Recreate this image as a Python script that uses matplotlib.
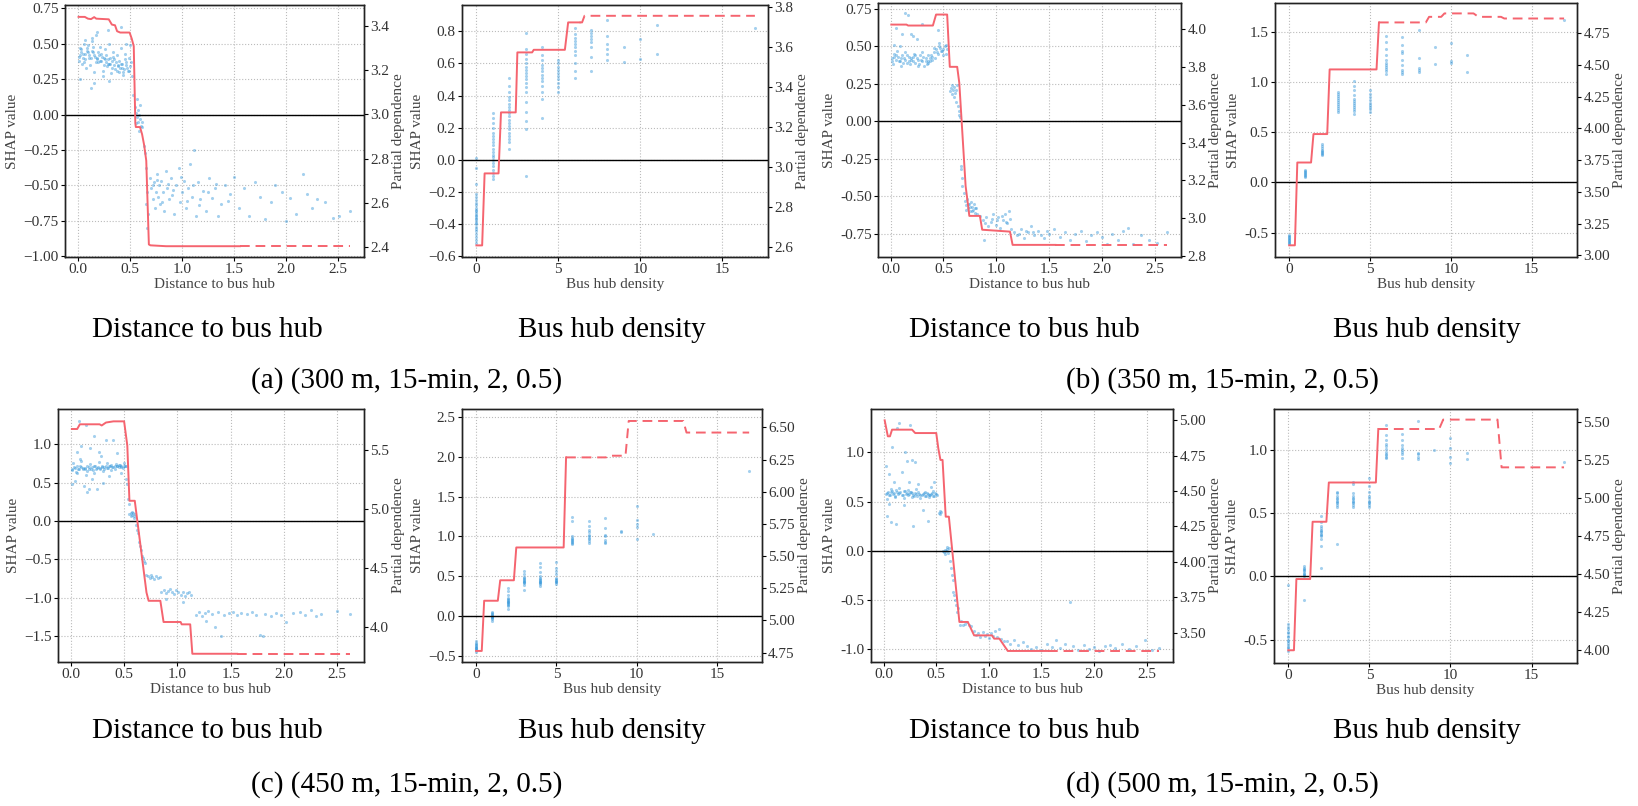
import matplotlib
matplotlib.use("Agg")
import matplotlib.pyplot as plt
from matplotlib.ticker import FormatStrFormatter

plt.rcParams['font.family'] = ['Liberation Serif', 'DejaVu Serif']
plt.rcParams['axes.unicode_minus'] = True

SCATTER = '#3598db'
PD_COLOR = '#f5646f'

# ---------------- (a) 300 m ----------------
a_dist_x = [0.01, 0.03, 0.05, 0.07, 0.09, 0.11, 0.13, 0.15, 0.17, 0.19, 0.21, 0.23, 0.25, 0.27, 0.29, 0.31, 0.33,
            0.35, 0.37, 0.39, 0.41, 0.43, 0.45, 0.47, 0.49, 0.51,
            0.02, 0.06, 0.10, 0.14, 0.18, 0.22, 0.26, 0.30, 0.34, 0.38, 0.42, 0.46, 0.50,
            0.04, 0.08, 0.12, 0.16, 0.20, 0.24, 0.28, 0.32, 0.36, 0.40, 0.44, 0.48, 0.52,
            0.02, 0.13, 0.16, 0.24, 0.30, 0.19, 0.14, 0.42, 0.29, 0.07, 0.47,
            0.55, 0.56, 0.57, 0.58, 0.58, 0.59, 0.60, 0.60, 0.61, 0.62, 0.62, 0.57, 0.59, 0.56, 0.53,
            0.64, 0.65, 0.66, 0.67, 0.66, 0.67, 0.68,
            0.70, 0.71, 0.72, 0.73, 0.74, 0.75, 0.76, 0.77, 0.78, 0.79, 0.80, 0.82, 0.83, 0.85, 0.86, 0.88,
            0.90, 0.91, 0.93, 0.95, 0.97, 0.98, 1.00, 1.02, 1.04, 1.06, 1.08, 1.10, 1.12, 1.14, 1.16, 1.18,
            1.20, 1.23, 1.26, 1.29, 1.32, 1.35, 1.38, 1.42, 1.46, 1.50, 1.55, 1.60, 1.65, 1.70, 1.75, 1.80,
            1.86, 1.90, 1.96, 2.00, 2.04, 2.10, 2.16, 2.20, 2.25, 2.30, 2.38, 2.45, 2.51, 2.62,
            0.015, 0.035, 0.055, 0.075, 0.095, 0.115, 0.135, 0.155, 0.175, 0.195, 0.215, 0.235, 0.255, 0.275,
            0.295, 0.315, 0.335, 0.355, 0.375, 0.395, 0.415, 0.435, 0.455, 0.475, 0.495,
            0.025, 0.065, 0.105, 0.145, 0.185, 0.225, 0.265, 0.305, 0.345, 0.385, 0.425, 0.465, 0.505,
            0.72, 0.76, 0.81, 0.87, 0.92, 0.99, 1.05, 1.11, 1.17, 1.25, 1.33, 1.44]
a_dist_y = [0.41, 0.44, 0.40, 0.43, 0.45, 0.42, 0.40, 0.44, 0.41, 0.39, 0.42, 0.38, 0.40, 0.37, 0.39, 0.36, 0.38,
            0.35, 0.37, 0.34, 0.33, 0.36, 0.32, 0.35, 0.31, 0.37,
            0.47, 0.50, 0.49, 0.52, 0.56, 0.48, 0.46, 0.50, 0.44, 0.42, 0.47, 0.43, 0.49,
            0.36, 0.33, 0.35, 0.30, 0.37, 0.31, 0.34, 0.29, 0.32, 0.30, 0.28, 0.31, 0.27,
            0.25, 0.19, 0.22, 0.27, 0.24, 0.58, 0.54, 0.62, 0.60, 0.53, 0.50,
            0.05, 0.01, -0.02, 0.03, -0.05, 0.00, -0.03, 0.07, -0.08, -0.05, -0.09, 0.11, -0.12, -0.06, 0.14,
            -0.22, -0.27, -0.38, -0.55, -0.63, -0.80, -0.70,
            -0.45, -0.52, -0.60, -0.48, -0.66, -0.55, -0.42, -0.58, -0.50, -0.63, -0.47, -0.55, -0.68, -0.40, -0.52, -0.60,
            -0.45, -0.57, -0.70, -0.50, -0.38, -0.62, -0.55, -0.47, -0.66, -0.52, -0.35, -0.58, -0.25, -0.72, -0.48, -0.60,
            -0.54, -0.68, -0.45, -0.59, -0.52, -0.72, -0.63, -0.50, -0.56, -0.44, -0.66, -0.52, -0.72, -0.48, -0.58, -0.74,
            -0.62, -0.50, -0.55, -0.75, -0.59, -0.70, -0.42, -0.56, -0.66, -0.60, -0.62, -0.73, -0.72, -0.68,
            0.38, 0.46, 0.43, 0.39, 0.47, 0.40, 0.45, 0.42, 0.37, 0.44, 0.38, 0.41, 0.35, 0.42,
            0.36, 0.40, 0.33, 0.39, 0.31, 0.38, 0.36, 0.30, 0.39, 0.33, 0.40,
            0.42, 0.37, 0.44, 0.48, 0.40, 0.43, 0.39, 0.36, 0.41, 0.35, 0.33, 0.37, 0.34,
            -0.50, -0.46, -0.62, -0.49, -0.53, -0.44, -0.61, -0.50, -0.64, -0.55, -0.49, -0.61]
a_dist_pd_x = [0.01, 0.07, 0.10, 0.13, 0.16, 0.18, 0.30, 0.33, 0.36, 0.38, 0.41, 0.50, 0.52, 0.54, 0.555, 0.56,
               0.60, 0.62, 0.64, 0.66, 0.685, 0.70, 0.85, 1.56, 2.62]
a_dist_pd_y = [3.443, 3.443, 3.435, 3.433, 3.442, 3.435, 3.432, 3.408, 3.405, 3.378, 3.372, 3.372, 3.345, 3.31,
               2.96, 2.943, 2.943, 2.91, 2.86, 2.79, 2.41, 2.406, 2.402, 2.402, 2.402]
a_dist_cut = 1.56

a_dens_cols = [0, 1, 2, 3, 4, 5, 6, 7, 8, 9, 10, 11, 17]
a_dens_vals = [
    [-0.52, -0.50, -0.48, -0.46, -0.44, -0.43, -0.42, -0.40, -0.39, -0.38, -0.37, -0.36, -0.35, -0.34, -0.33,
     -0.32, -0.31, -0.30, -0.28, -0.27, -0.25, -0.23, -0.21, -0.15, -0.05, 0.01],
    [-0.12, -0.10, -0.08, -0.06, -0.04, -0.02, 0.0, 0.02, 0.03, 0.05, 0.07, 0.09, 0.11, 0.13, 0.15, 0.17, 0.20,
     0.23, 0.26, 0.29],
    [0.07, 0.11, 0.13, 0.15, 0.17, 0.19, 0.21, 0.23, 0.25, 0.27, 0.29, 0.31, 0.33, 0.35, 0.37, 0.39, 0.42, 0.46, 0.51],
    [-0.10, 0.19, 0.24, 0.30, 0.36, 0.42, 0.45, 0.48, 0.50, 0.52, 0.54, 0.56, 0.58, 0.60, 0.63, 0.66, 0.69, 0.79],
    [0.26, 0.38, 0.42, 0.46, 0.49, 0.51, 0.53, 0.55, 0.57, 0.59, 0.62, 0.65, 0.70],
    [0.42, 0.45, 0.48, 0.50, 0.52, 0.54, 0.56, 0.58, 0.60, 0.62],
    [0.51, 0.55, 0.60, 0.65, 0.68, 0.70, 0.72, 0.74, 0.76, 0.78, 0.82],
    [0.55, 0.64, 0.70, 0.73, 0.75, 0.77, 0.79, 0.81],
    [0.62, 0.66, 0.69, 0.72, 0.77, 0.87],
    [0.61, 0.70],
    [0.63, 0.75],
    [0.66, 0.84],
    [0.82],
]
a_dens_pd_x = [0, 0.35, 0.5, 1.35, 1.5, 2.4, 2.5, 3.4, 3.5, 5.4, 5.6, 6.3, 6.45, 6.6, 17]
a_dens_pd_y = [2.61, 2.61, 2.97, 2.97, 3.275, 3.275, 3.575, 3.575, 3.588, 3.588, 3.725, 3.725, 3.725, 3.758, 3.758]
a_dens_cut = 6.3

# ---------------- (b) 350 m ----------------
b_dist_x = [0.01, 0.03, 0.05, 0.07, 0.09, 0.11, 0.13, 0.15, 0.17, 0.19, 0.21, 0.23, 0.25, 0.27, 0.29, 0.31, 0.33,
            0.35, 0.37, 0.39,
            0.02, 0.06, 0.10, 0.14, 0.18, 0.22, 0.26, 0.30, 0.34, 0.38,
            0.41, 0.43, 0.45, 0.47, 0.49, 0.51, 0.53, 0.42, 0.46, 0.50, 0.52,
            0.05, 0.11, 0.14, 0.16, 0.19, 0.21, 0.25, 0.30, 0.09, 0.03, 0.45, 0.35,
            0.56, 0.57, 0.58, 0.59, 0.60, 0.61, 0.62, 0.63, 0.60, 0.58, 0.62,
            0.64, 0.645, 0.65, 0.66,
            0.665, 0.67, 0.675, 0.68, 0.69,
            0.70, 0.71, 0.72, 0.73, 0.74, 0.75, 0.76, 0.77, 0.78, 0.79, 0.80, 0.81, 0.82,
            0.85, 0.87, 0.89, 0.90, 0.92, 0.95, 0.97, 1.00, 1.02, 1.04, 1.06, 1.08, 1.10, 1.12, 1.14, 0.88,
            1.17, 1.20, 1.23, 1.26, 1.30, 1.33, 1.36, 1.40, 1.45, 1.50, 1.55, 1.60, 1.65, 1.70, 1.75,
            1.80, 1.85, 1.90, 1.95, 2.00, 2.05, 2.10, 2.15, 2.20, 2.25, 2.30, 2.37, 2.45, 2.52, 2.62,
            0.015, 0.035, 0.055, 0.075, 0.095, 0.115, 0.135, 0.155, 0.175, 0.195, 0.215, 0.235, 0.255, 0.275,
            0.295, 0.315, 0.335, 0.355, 0.375, 0.395,
            0.415, 0.435, 0.455, 0.475, 0.495, 0.525,
            0.715, 0.735, 0.755, 0.775, 0.795, 0.96, 1.01, 1.05, 1.09, 1.13, 1.22, 1.28, 1.35, 1.42, 1.48]
b_dist_y = [0.42, 0.45, 0.41, 0.43, 0.40, 0.44, 0.42, 0.39, 0.43, 0.41, 0.40, 0.44, 0.42, 0.38, 0.41, 0.43, 0.40,
            0.39, 0.42, 0.41,
            0.38, 0.47, 0.37, 0.46, 0.38, 0.45, 0.37, 0.46, 0.38, 0.44,
            0.46, 0.48, 0.45, 0.49, 0.47, 0.50, 0.48, 0.42, 0.52, 0.44, 0.45,
            0.62, 0.58, 0.72, 0.71, 0.58, 0.57, 0.55, 0.65, 0.50, 0.51, 0.61, 0.40,
            0.20, 0.22, 0.18, 0.21, 0.23, 0.19, 0.21, 0.24, 0.16, 0.24, 0.13,
            0.10, 0.07, 0.04, 0.03,
            -0.30, -0.32, -0.38, -0.43, -0.48,
            -0.53, -0.56, -0.52, -0.58, -0.55, -0.60, -0.54, -0.57, -0.59, -0.55, -0.61, -0.58, -0.62,
            -0.63, -0.66, -0.68, -0.64, -0.70, -0.67, -0.62, -0.69, -0.64, -0.71, -0.66, -0.62, -0.68, -0.60, -0.72, -0.79,
            -0.74, -0.76, -0.72, -0.78, -0.74, -0.70, -0.76, -0.73, -0.78, -0.75, -0.72, -0.77, -0.74, -0.79, -0.75,
            -0.73, -0.80, -0.76, -0.74, -0.77, -0.82, -0.75, -0.79, -0.73, -0.71, -0.82, -0.76, -0.79, -0.81, -0.74,
            0.40, 0.43, 0.44, 0.40, 0.42, 0.39, 0.41, 0.44, 0.40, 0.42, 0.43, 0.39, 0.41, 0.44,
            0.40, 0.37, 0.42, 0.44, 0.40, 0.43,
            0.49, 0.46, 0.50, 0.47, 0.48, 0.51,
            -0.59, -0.55, -0.57, -0.60, -0.58, -0.65, -0.66, -0.63, -0.67, -0.65, -0.75, -0.73, -0.74, -0.76, -0.73]
b_dist_pd_x = [0.006, 0.15, 0.165, 0.40, 0.43, 0.535, 0.56, 0.63, 0.65, 0.71, 0.735, 0.745, 0.845, 0.867, 1.13,
               1.155, 1.56, 2.62]
b_dist_pd_y = [4.023, 4.023, 4.018, 4.018, 4.076, 4.076, 3.80, 3.80, 3.715, 3.17, 3.06, 3.013, 3.013, 2.94, 2.93,
               2.86, 2.86, 2.86]
b_dist_cut = 1.56

b_dens_cols = [0, 1, 2, 3, 4, 5, 6, 7, 8, 9, 10, 11, 17]
b_dens_vals = [
    [-0.61, -0.60, -0.59, -0.58, -0.57, -0.56, -0.55, -0.54, -0.53, -0.52],
    [0.05, 0.06, 0.07, 0.08, 0.09, 0.10, 0.11, 0.12],
    [0.27, 0.28, 0.29, 0.30, 0.31, 0.32, 0.34, 0.36, 0.38],
    [0.70, 0.72, 0.74, 0.76, 0.78, 0.80, 0.82, 0.84, 0.86, 0.88, 0.90],
    [0.68, 0.71, 0.73, 0.75, 0.77, 0.79, 0.81, 0.83, 0.87, 0.92, 0.96, 1.01],
    [0.70, 0.73, 0.75, 0.77, 0.79, 0.82, 0.85, 0.88, 0.92],
    [1.08, 1.11, 1.13, 1.15, 1.17, 1.19, 1.22, 1.27, 1.33, 1.40, 1.46],
    [1.08, 1.10, 1.12, 1.17, 1.22, 1.29, 1.31, 1.37, 1.45],
    [1.10, 1.12, 1.14, 1.24, 1.52],
    [1.18, 1.35],
    [1.19, 1.21, 1.39],
    [1.10, 1.27],
    [1.62],
]
b_dens_pd_x = [0, 0.35, 0.5, 1.35, 1.5, 2.35, 2.5, 5.4, 5.55, 8.45, 8.65, 9.4, 9.6, 11.4, 11.7, 13.1, 13.3, 17]
b_dens_pd_y = [3.079, 3.079, 3.731, 3.731, 3.955, 3.955, 4.464, 4.464, 4.834, 4.834, 4.878, 4.878, 4.905, 4.905,
               4.878, 4.878, 4.865, 4.865]
b_dens_cut = 5.55

# ---------------- (c) 450 m ----------------
c_dist_x = [0.01, 0.03, 0.05, 0.07, 0.09, 0.11, 0.13, 0.15, 0.17, 0.19, 0.21, 0.23, 0.25, 0.27, 0.29, 0.31, 0.33,
            0.35, 0.37, 0.39, 0.41, 0.43, 0.45, 0.47, 0.49, 0.51,
            0.02, 0.06, 0.10, 0.14, 0.18, 0.22, 0.26, 0.30, 0.34, 0.38, 0.42, 0.46, 0.50,
            0.01, 0.04, 0.06, 0.08, 0.10, 0.12, 0.14, 0.15, 0.18, 0.20, 0.22, 0.25, 0.28, 0.30, 0.33, 0.36, 0.40,
            0.43, 0.47, 0.09, 0.17, 0.26,
            0.52, 0.53, 0.54, 0.55,
            0.55, 0.56, 0.57, 0.58, 0.59, 0.60, 0.57, 0.59, 0.56,
            0.61, 0.62, 0.63, 0.64, 0.65, 0.66, 0.67, 0.68, 0.69, 0.70, 0.71,
            0.72, 0.74, 0.76, 0.78, 0.80, 0.82, 0.84, 0.75,
            0.85, 0.87, 0.89, 0.91, 0.93, 0.95, 0.97, 0.99, 1.01, 1.03, 1.05, 1.07, 1.09, 1.11, 1.13, 0.89, 1.05,
            1.17, 1.20, 1.23, 1.26, 1.29, 1.32, 1.35, 1.38, 1.41, 1.44, 1.48, 1.52, 1.56, 1.60, 1.65, 1.70, 1.74,
            1.77, 1.80, 1.82, 1.88, 1.92, 1.97, 2.02, 2.08, 2.15, 2.20, 2.25, 2.30, 2.35, 2.50, 2.62, 1.27,
            0.015, 0.035, 0.055, 0.075, 0.095, 0.115, 0.135, 0.155, 0.175, 0.195, 0.215, 0.235, 0.255, 0.275,
            0.295, 0.315, 0.335, 0.355, 0.375, 0.395, 0.415, 0.435, 0.455, 0.475, 0.495, 0.515]
c_dist_y = [0.66, 0.70, 0.64, 0.68, 0.71, 0.67, 0.69, 0.65, 0.70, 0.68, 0.66, 0.71, 0.69, 0.67, 0.70, 0.68, 0.72,
            0.69, 0.71, 0.70, 0.68, 0.72, 0.70, 0.71, 0.69, 0.72,
            0.75, 0.62, 0.78, 0.60, 0.74, 0.63, 0.77, 0.65, 0.75, 0.66, 0.74, 0.73, 0.76,
            0.48, 0.52, 0.90, 1.30, 0.98, 0.45, 1.25, 0.38, 0.95, 0.55, 1.10, 0.42, 0.85, 0.50, 1.05, 0.58, 1.05,
            0.88, 0.62, 0.80, 0.42, 0.90,
            0.55, 0.48, 0.28, 0.22,
            0.09, 0.11, 0.08, 0.10, 0.06, 0.09, 0.12, 0.04, 0.06,
            -0.05, -0.12, -0.15, -0.28, -0.32, -0.38, -0.45, -0.48, -0.52, -0.55, -0.70,
            -0.72, -0.74, -0.73, -0.75, -0.72, -0.74, -0.73, -0.70,
            -0.92, -0.90, -0.94, -0.91, -0.89, -0.92, -0.95, -0.90, -0.93, -0.96, -0.92, -0.97, -0.94, -0.92, -0.96,
            -1.02, -1.06,
            -1.22, -1.18, -1.24, -1.20, -1.17, -1.21, -1.38, -1.19, -1.50, -1.22, -1.20, -1.18, -1.22, -1.20, -1.21,
            -1.19, -1.22, -1.48, -1.50, -1.21, -1.23, -1.20, -1.22, -1.31, -1.20, -1.19, -1.22, -1.16, -1.24, -1.21,
            -1.17, -1.21, -1.30,
            0.68, 0.69, 0.72, 0.67, 0.70, 0.69, 0.68, 0.71, 0.67, 0.70, 0.72, 0.68, 0.70, 0.69,
            0.71, 0.70, 0.69, 0.71, 0.73, 0.70, 0.72, 0.71, 0.73, 0.70, 0.72, 0.71]
c_dist_pd_x = [0.01, 0.06, 0.085, 0.27, 0.29, 0.33, 0.40, 0.50, 0.53, 0.55, 0.60, 0.71, 0.73, 0.84, 0.87, 1.03,
               1.04, 1.12, 1.14, 1.56, 2.62]
c_dist_pd_y = [5.68, 5.68, 5.72, 5.72, 5.71, 5.735, 5.745, 5.745, 5.54, 5.07, 5.07, 4.29, 4.22, 4.22, 4.04, 4.04,
               4.02, 4.02, 3.77, 3.77, 3.77]
c_dist_cut = 1.56

c_dens_cols = [0, 1, 2, 3, 4, 5, 6, 7, 8, 9, 10, 11, 17]
c_dens_vals = [
    [-0.45, -0.43, -0.42, -0.41, -0.40, -0.39, -0.38, -0.37, -0.36, -0.34, -0.32],
    [-0.06, -0.04, -0.03, -0.02, -0.01, 0.0, 0.01, 0.02, 0.03, 0.05],
    [0.08, 0.12, 0.14, 0.15, 0.16, 0.17, 0.18, 0.19, 0.20, 0.21, 0.22, 0.26, 0.31, 0.35],
    [0.33, 0.39, 0.41, 0.42, 0.43, 0.44, 0.45, 0.46, 0.47, 0.49, 0.53, 0.57],
    [0.38, 0.40, 0.41, 0.42, 0.43, 0.44, 0.45, 0.46, 0.47, 0.50, 0.55, 0.61, 0.67],
    [0.40, 0.42, 0.43, 0.44, 0.45, 0.46, 0.48, 0.52, 0.56, 0.60, 0.68],
    [0.90, 0.92, 0.93, 0.94, 0.95, 0.96, 0.98, 1.00, 1.19, 1.24],
    [0.92, 0.94, 0.96, 0.98, 1.00, 1.02, 1.05, 1.08, 1.13, 1.19],
    [0.91, 0.93, 0.95, 1.00, 1.02, 1.10, 1.23],
    [1.05, 1.07],
    [0.97, 1.12, 1.15, 1.20, 1.38],
    [1.03],
    [1.82],
]
c_dens_pd_x = [0, 0.35, 0.5, 1.35, 1.5, 2.35, 2.5, 5.45, 5.6, 8.1, 8.2, 9.3, 9.5, 12.9, 13.1, 17]
c_dens_pd_y = [4.763, 4.763, 5.153, 5.153, 5.312, 5.312, 5.567, 5.567, 6.267, 6.267, 6.28, 6.28, 6.55, 6.55,
               6.46, 6.46]
c_dens_cut = 5.6

# ---------------- (d) 500 m ----------------
d_dist_x = [0.02, 0.04, 0.06, 0.08, 0.10, 0.12, 0.14, 0.16, 0.18, 0.20, 0.22, 0.24, 0.26, 0.28, 0.30, 0.32, 0.34,
            0.36, 0.38, 0.40, 0.42, 0.44, 0.46, 0.48, 0.50,
            0.03, 0.07, 0.11, 0.15, 0.19, 0.23, 0.27, 0.31, 0.35, 0.39, 0.43, 0.47,
            0.02, 0.03, 0.05, 0.07, 0.08, 0.10, 0.12, 0.13, 0.15, 0.17, 0.20, 0.22, 0.24, 0.27, 0.28, 0.30, 0.33,
            0.37, 0.42, 0.45, 0.48, 0.05, 0.25, 0.19,
            0.53, 0.535, 0.54, 0.545,
            0.56, 0.57, 0.58, 0.59, 0.60, 0.61, 0.62, 0.585, 0.605,
            0.63, 0.64, 0.65, 0.66, 0.66, 0.67, 0.68, 0.69, 0.70, 0.71,
            0.73, 0.75, 0.77, 0.79, 0.81, 0.83, 0.74,
            0.86, 0.88, 0.90, 0.92, 0.94, 0.96, 0.98, 1.00, 1.02, 1.04, 1.06, 1.08, 1.10, 1.12, 1.14,
            1.17, 1.20, 1.24, 1.28, 1.32, 1.36, 1.40, 1.45, 1.50, 1.55, 1.60, 1.64, 1.68, 1.72, 1.77,
            1.80, 1.85, 1.90, 1.95, 2.00, 2.05, 2.10, 2.15, 2.20, 2.27, 2.33, 2.40, 2.48, 2.55, 2.62,
            0.03, 0.05, 0.07, 0.09, 0.11, 0.13, 0.15, 0.17, 0.19, 0.21, 0.23, 0.25, 0.27, 0.29, 0.31, 0.33,
            0.35, 0.37, 0.39, 0.41, 0.43, 0.45, 0.47, 0.49, 0.51]
d_dist_y = [0.58, 0.60, 0.57, 0.61, 0.59, 0.62, 0.58, 0.60, 0.57, 0.61, 0.59, 0.58, 0.60, 0.57, 0.59, 0.56, 0.58,
            0.57, 0.59, 0.56, 0.58, 0.57, 0.59, 0.56, 0.58,
            0.53, 0.63, 0.55, 0.64, 0.54, 0.62, 0.55, 0.63, 0.54, 0.60, 0.55, 0.61,
            0.86, 0.35, 0.78, 0.29, 1.05, 0.70, 0.27, 1.25, 1.30, 0.80, 1.00, 0.91, 0.70, 0.92, 0.25, 0.90, 0.68,
            0.41, 0.30, 0.65, 0.70, 0.47, 1.28, 0.46,
            0.38, 0.40, 0.37, 0.39,
            0.00, -0.01, 0.01, 0.00, 0.02, -0.02, 0.03, -0.03, 0.04,
            -0.10, -0.18, -0.25, -0.30, -0.42, -0.45, -0.50, -0.55, -0.62, -0.58,
            -0.75, -0.76, -0.74, -0.72, -0.75, -0.77, -0.71,
            -0.82, -0.86, -0.84, -0.88, -0.83, -0.87, -0.85, -0.89, -0.84, -0.87, -0.82, -0.88, -0.80, -0.90, -0.92,
            -0.92, -0.95, -0.91, -0.96, -0.93, -0.97, -1.00, -0.98, -1.01, -0.95, -0.98, -0.91, -0.99, -0.95, -0.52,
            -0.97, -1.01, -0.96, -1.00, -0.98, -1.02, -0.97, -0.96, -0.99, -0.95, -1.00, -0.97, -0.91, -1.01, -0.99,
            0.59, 0.57, 0.60, 0.58, 0.56, 0.60, 0.59, 0.57, 0.61, 0.58, 0.57, 0.60, 0.59, 0.56, 0.58, 0.60,
            0.57, 0.58, 0.56, 0.59, 0.57, 0.58, 0.56, 0.59, 0.57]
d_dist_pd_x = [0.01, 0.04, 0.06, 0.08, 0.27, 0.30, 0.50, 0.52, 0.54, 0.56, 0.59, 0.62, 0.72, 0.80, 0.86, 1.03,
               1.05, 1.10, 1.18, 1.56, 2.62]
d_dist_pd_y = [5.0, 4.887, 4.887, 4.934, 4.934, 4.91, 4.91, 4.80, 4.72, 4.72, 4.319, 4.319, 3.575, 3.575, 3.48,
               3.48, 3.457, 3.457, 3.37, 3.37, 3.37]
d_dist_cut = 1.56

d_dens_cols = [0, 1, 2, 3, 4, 5, 6, 7, 8, 9, 10, 11, 17]
d_dens_vals = [
    [-0.59, -0.57, -0.56, -0.54, -0.53, -0.51, -0.50, -0.48, -0.47, -0.45, -0.44, -0.42, -0.40, -0.38, -0.07],
    [-0.19, 0.00, 0.01, 0.02, 0.03, 0.04, 0.05, 0.06, 0.07, 0.08],
    [0.07, 0.24, 0.30, 0.32, 0.33, 0.34, 0.35, 0.36, 0.37, 0.38, 0.40, 0.43, 0.48],
    [0.26, 0.55, 0.57, 0.58, 0.59, 0.60, 0.61, 0.62, 0.64, 0.66, 0.67],
    [0.55, 0.57, 0.58, 0.59, 0.60, 0.61, 0.62, 0.64, 0.66, 0.73, 0.75],
    [0.55, 0.57, 0.58, 0.59, 0.60, 0.62, 0.64, 0.67, 0.72, 0.78],
    [0.94, 0.95, 0.96, 0.97, 0.99, 1.01, 1.03, 1.05, 1.08, 1.12, 1.20],
    [0.94, 0.97, 0.99, 1.00, 1.02, 1.04, 1.08, 1.13],
    [0.93, 0.95, 0.97, 0.98, 1.23],
    [1.00],
    [0.90, 0.95, 1.02, 1.10],
    [0.93, 0.98],
    [0.91],
]
d_dens_pd_x = [0, 0.35, 0.5, 1.35, 1.5, 2.35, 2.5, 5.4, 5.55, 9.3, 9.55, 12.9, 13.15, 17]
d_dens_pd_y = [3.996, 3.996, 4.466, 4.466, 4.844, 4.844, 5.103, 5.103, 5.456, 5.456, 5.518, 5.518, 5.203, 5.203]
d_dens_cut = 5.55

dist_ticks = [0.0, 0.5, 1.0, 1.5, 2.0, 2.5]
dens_ticks = [0, 5, 10, 15]


def expand(cols, vals):
    xs, ys = [], []
    for c, v in zip(cols, vals):
        xs += [c] * len(v)
        ys += v
    return xs, ys


def panel(rect, sx, sy, pdx, pdy, cut, xlim, xticks, xlabel, ylim, yticks, ylim2, y2ticks,
          fmt=None, fmt2=None):
    ax = fig.add_axes(rect)
    ax.scatter(sx, sy, s=5, color=SCATTER, alpha=0.45, linewidths=0, zorder=2)
    ax.axhline(0, color='black', lw=1.0, zorder=3)
    ax.set_xlim(*xlim)
    ax.set_ylim(*ylim)
    ax.set_xticks(xticks)
    ax.set_yticks(yticks)
    ax.grid(True, ls=':', color='#bbbbbb', lw=0.8)
    ax.set_axisbelow(True)
    ax.set_xlabel(xlabel, fontsize=11, color='#444444', labelpad=1)
    ax.set_ylabel('SHAP value', fontsize=11, color='#444444', labelpad=3)
    if fmt:
        ax.yaxis.set_major_formatter(FormatStrFormatter(fmt))

    ax2 = ax.twinx()
    solid = [(x, y) for x, y in zip(pdx, pdy) if x <= cut]
    dashed = [(x, y) for x, y in zip(pdx, pdy) if x >= cut]
    ax2.plot([p[0] for p in solid], [p[1] for p in solid], color=PD_COLOR, lw=1.4)
    ax2.plot([p[0] for p in dashed], [p[1] for p in dashed], color=PD_COLOR, lw=1.4, ls=(0, (5, 3)))
    ax2.set_xlim(*xlim)
    ax2.set_ylim(*ylim2)
    ax2.set_yticks(y2ticks)
    ax2.set_ylabel('Partial dependence', fontsize=11, color='#444444', labelpad=2)
    if fmt2:
        ax2.yaxis.set_major_formatter(FormatStrFormatter(fmt2))
    for a in (ax, ax2):
        a.tick_params(labelsize=11, labelcolor='#333333', length=3, width=0.8, pad=1.5)
        for s in a.spines.values():
            s.set_color('#222222')
            s.set_linewidth(1.0)


W, H = 1638, 806
fig = plt.figure(figsize=(W / 100, H / 100), dpi=100)


def rect(x0, x1, y0, y1):
    return [x0 / W, 1 - y1 / H, (x1 - x0) / W, (y1 - y0) / H]


dist_lim = (-0.12, 2.75)
dens_lim = (-0.88, 17.8)

# (a)
panel(rect(65, 364, 5, 257), a_dist_x, a_dist_y, a_dist_pd_x, a_dist_pd_y, a_dist_cut,
      dist_lim, dist_ticks, 'Distance to bus hub',
      (-1.007, 0.774), [-1.0, -0.75, -0.5, -0.25, 0.0, 0.25, 0.5, 0.75],
      (2.353, 3.497), [2.4, 2.6, 2.8, 3.0, 3.2, 3.4])
ax_x, ax_y = expand(a_dens_cols, a_dens_vals)
panel(rect(462, 768, 5, 257), ax_x, ax_y, a_dens_pd_x, a_dens_pd_y, a_dens_cut,
      dens_lim, dens_ticks, 'Bus hub density',
      (-0.604, 0.963), [-0.6, -0.4, -0.2, 0.0, 0.2, 0.4, 0.6, 0.8],
      (2.552, 3.812), [2.6, 2.8, 3.0, 3.2, 3.4, 3.6, 3.8])

# (b)
panel(rect(878, 1181, 3, 257), b_dist_x, b_dist_y, b_dist_pd_x, b_dist_pd_y, b_dist_cut,
      dist_lim, dist_ticks, 'Distance to bus hub',
      (-0.906, 0.79), [-0.75, -0.5, -0.25, 0.0, 0.25, 0.5, 0.75],
      (2.796, 4.137), [2.8, 3.0, 3.2, 3.4, 3.6, 3.8, 4.0], fmt='%.2f', fmt2='%.1f')
bx, by = expand(b_dens_cols, b_dens_vals)
panel(rect(1275, 1577, 3, 257), bx, by, b_dens_pd_x, b_dens_pd_y, b_dens_cut,
      dens_lim, dens_ticks, 'Bus hub density',
      (-0.743, 1.79), [-0.5, 0.0, 0.5, 1.0, 1.5],
      (2.987, 4.987), [3.0, 3.25, 3.5, 3.75, 4.0, 4.25, 4.5, 4.75], fmt='%.1f', fmt2='%.2f')

# (c)
panel(rect(58, 364, 409, 662), c_dist_x, c_dist_y, c_dist_pd_x, c_dist_pd_y, c_dist_cut,
      dist_lim, dist_ticks, 'Distance to bus hub',
      (-1.835, 1.457), [-1.5, -1.0, -0.5, 0.0, 0.5, 1.0],
      (3.70, 5.85), [4.0, 4.5, 5.0, 5.5])
cx, cy = expand(c_dens_cols, c_dens_vals)
panel(rect(462, 762, 409, 662), cx, cy, c_dens_pd_x, c_dens_pd_y, c_dens_cut,
      dens_lim, dens_ticks, 'Bus hub density',
      (-0.58, 2.6), [-0.5, 0.0, 0.5, 1.0, 1.5, 2.0, 2.5],
      (4.677, 6.643), [4.75, 5.0, 5.25, 5.5, 5.75, 6.0, 6.25, 6.5])

# (d)
panel(rect(871, 1173, 409, 662), d_dist_x, d_dist_y, d_dist_pd_x, d_dist_pd_y, d_dist_cut,
      dist_lim, dist_ticks, 'Distance to bus hub',
      (-1.131, 1.44), [-1.0, -0.5, 0.0, 0.5, 1.0],
      (3.292, 5.08), [3.5, 3.75, 4.0, 4.25, 4.5, 4.75, 5.0], fmt='%.1f', fmt2='%.2f')
dx, dy = expand(d_dens_cols, d_dens_vals)
panel(rect(1274, 1577, 409, 663), dx, dy, d_dens_pd_x, d_dens_pd_y, d_dens_cut,
      dens_lim, dens_ticks, 'Bus hub density',
      (-0.686, 1.327), [-0.5, 0.0, 0.5, 1.0],
      (3.912, 5.588), [4.0, 4.25, 4.5, 4.75, 5.0, 5.25, 5.5], fmt='%.1f', fmt2='%.2f')

# sub-titles and captions
big = dict(fontsize=21, ha='center', va='center', color='black')
for yy in (330, 731):
    fig.text(207 / W, 1 - yy / H, 'Distance to bus hub', **big)
    fig.text(612 / W, 1 - yy / H, 'Bus hub density', **big)
    fig.text(1024 / W, 1 - yy / H, 'Distance to bus hub', **big)
    fig.text(1427 / W, 1 - yy / H, 'Bus hub density', **big)
fig.text(407 / W, 1 - 381 / H, '(a) (300 m, 15-min, 2, 0.5)', **big)
fig.text(1222 / W, 1 - 381 / H, '(b) (350 m, 15-min, 2, 0.5)', **big)
fig.text(407 / W, 1 - 785 / H, '(c) (450 m, 15-min, 2, 0.5)', **big)
fig.text(1222 / W, 1 - 785 / H, '(d) (500 m, 15-min, 2, 0.5)', **big)

fig.savefig('out.png', dpi=100)
